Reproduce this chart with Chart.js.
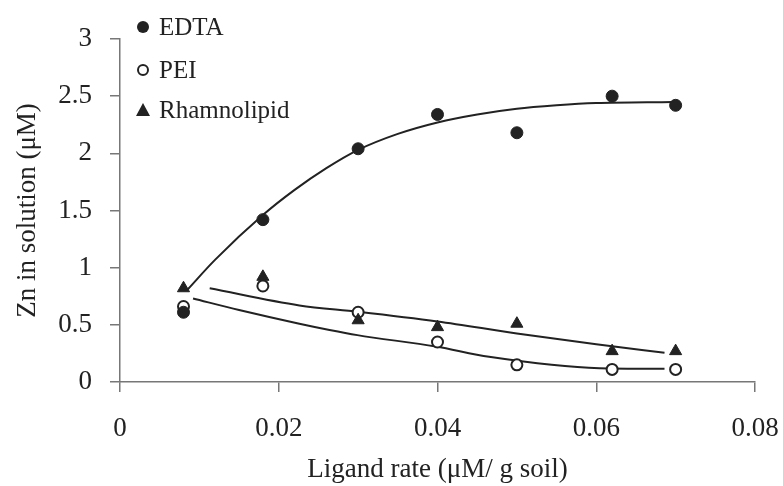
<!DOCTYPE html>
<html>
<head>
<meta charset="utf-8">
<script src="https://cdn.jsdelivr.net/npm/chart.js@4/dist/chart.umd.min.js"></script>
<style>
  body { margin: 0; background: #fff; }
  #wrap { width: 783px; height: 486px; }
</style>
</head>
<body>
<div id="wrap"><canvas id="znChart" width="783" height="486"></canvas></div>
<script>
// ----------------------------
// DATA
// ----------------------------
const ligandRate = [0.008, 0.018, 0.030, 0.040, 0.050, 0.062, 0.070];
const edta = [0.61, 1.42, 2.04, 2.34, 2.18, 2.50, 2.42];
const pei = [0.66, 0.84, 0.61, 0.35, 0.15, 0.11, 0.11];
const rhamnolipid = [0.82, 0.92, 0.54, 0.48, 0.51, 0.27, 0.27];

// fitted trend curves as drawn in the figure
const edtaFitX = [0.0084, 0.012, 0.018, 0.022, 0.026, 0.030, 0.035, 0.040, 0.045, 0.050, 0.055, 0.060, 0.0696];
const edtaFitY = [0.80, 1.07, 1.46, 1.68, 1.87, 2.03, 2.17, 2.27, 2.34, 2.39, 2.42, 2.44, 2.45];
const peiFitX = [0.0092, 0.015, 0.0226, 0.0264, 0.0299, 0.0398, 0.0465, 0.0604, 0.0686];
const peiFitY = [0.73, 0.63, 0.51, 0.455, 0.41, 0.31, 0.22, 0.12, 0.115];
const rhamFitX = [0.0113, 0.0226, 0.030, 0.040, 0.050, 0.060, 0.0686];
const rhamFitY = [0.82, 0.67, 0.615, 0.53, 0.425, 0.33, 0.255];

const seriesNames = ["EDTA", "PEI", "Rhamnolipid"];
const xTicks = [0, 0.02, 0.04, 0.06, 0.08];
const yTicks = [0, 0.5, 1, 1.5, 2, 2.5, 3];

const ink = "#222";
const serif = "'Liberation Serif', 'Times New Roman', serif";

function toPoints(xs, ys) {
    return xs.map((x, i) => ({ x: x, y: ys[i] }));
}

function fitLine(xs, ys) {
    return {
        type: "line",
        data: toPoints(xs, ys),
        borderColor: ink,
        borderWidth: 2,
        pointRadius: 0,
        fill: false,
        cubicInterpolationMode: "monotone",
        order: 2
    };
}

// ----------------------------
// LEGEND (top-left, drawn on canvas)
// ----------------------------
const cornerLegend = {
    id: "cornerLegend",
    afterDraw(chart) {
        const ctx = chart.ctx;
        const rows = [
            { y: 27, style: "filled" },
            { y: 70, style: "open" },
            { y: 110, style: "triangle" }
        ];
        ctx.save();
        rows.forEach((row, i) => {
            const cx = 143;
            ctx.fillStyle = ink;
            ctx.strokeStyle = ink;
            ctx.lineWidth = 2;
            ctx.beginPath();
            if (row.style === "filled") {
                ctx.arc(cx, row.y, 6, 0, Math.PI * 2);
                ctx.fill();
            } else if (row.style === "open") {
                ctx.arc(cx, row.y, 5, 0, Math.PI * 2);
                ctx.fillStyle = "#fff";
                ctx.fill();
                ctx.stroke();
            } else {
                ctx.moveTo(cx, row.y - 7);
                ctx.lineTo(cx + 7, row.y + 6);
                ctx.lineTo(cx - 7, row.y + 6);
                ctx.closePath();
                ctx.fill();
            }
            ctx.fillStyle = ink;
            ctx.font = "25px " + serif;
            ctx.textAlign = "left";
            ctx.textBaseline = "middle";
            ctx.fillText(seriesNames[i], 159, row.y + 1);
        });
        ctx.restore();
    }
};

// ----------------------------
// CHART
// ----------------------------
const ctx = document.getElementById("znChart").getContext("2d");

new Chart(ctx, {
    type: "scatter",
    data: {
        datasets: [
            {
                label: seriesNames[0],
                data: toPoints(ligandRate, edta),
                pointStyle: "circle",
                pointRadius: 6,
                backgroundColor: ink,
                borderColor: ink,
                borderWidth: 1,
                order: 1
            },
            {
                label: seriesNames[1],
                data: toPoints(ligandRate, pei),
                pointStyle: "circle",
                pointRadius: 5.5,
                backgroundColor: "#fff",
                borderColor: ink,
                borderWidth: 2,
                order: 1
            },
            {
                label: seriesNames[2],
                data: toPoints(ligandRate, rhamnolipid),
                pointStyle: "triangle",
                pointRadius: 7,
                backgroundColor: ink,
                borderColor: ink,
                borderWidth: 1,
                order: 0
            },
            fitLine(edtaFitX, edtaFitY),
            fitLine(peiFitX, peiFitY),
            fitLine(rhamFitX, rhamFitY)
        ]
    },
    options: {
        responsive: false,
        animation: false,
        layout: { padding: { top: 39, right: 28, left: 0, bottom: 0 } },
        plugins: {
            legend: { display: false },
            tooltip: { enabled: false }
        },
        scales: {
            x: {
                type: "linear",
                min: xTicks[0],
                max: xTicks[xTicks.length - 1],
                afterBuildTicks: (scale) => { scale.ticks = xTicks.map(v => ({ value: v })); },
                afterFit: (scale) => {
                    scale.height = 104;
                    scale.paddingLeft = 0;
                    scale.paddingRight = 0;
                },
                ticks: {
                    color: ink,
                    padding: 21,
                    font: { family: serif, size: 27 },
                    callback: (v) => String(parseFloat(Number(v).toFixed(2)))
                },
                grid: {
                    drawOnChartArea: false,
                    drawTicks: true,
                    tickLength: 10,
                    color: "#777",
                    lineWidth: 1.5
                },
                border: { color: "#777", width: 1.5 },
                title: {
                    display: true,
                    text: "Ligand rate (μM/ g soil)",
                    color: ink,
                    font: { family: serif, size: 27 },
                    padding: { top: 0, bottom: 0 }
                }
            },
            y: {
                min: yTicks[0],
                max: yTicks[yTicks.length - 1],
                afterBuildTicks: (scale) => { scale.ticks = yTicks.map(v => ({ value: v })); },
                afterFit: (scale) => { scale.width = 120; },
                ticks: {
                    color: ink,
                    padding: 18,
                    font: { family: serif, size: 27 },
                    callback: (v) => String(v)
                },
                grid: {
                    drawOnChartArea: false,
                    drawTicks: true,
                    tickLength: 10,
                    color: "#777",
                    lineWidth: 1.5
                },
                border: { color: "#777", width: 1.5 },
                title: {
                    display: true,
                    text: "Zn in solution (μM)",
                    color: ink,
                    font: { family: serif, size: 27 },
                    padding: { top: 12, bottom: 0 }
                }
            }
        }
    },
    plugins: [cornerLegend]
});
</script>
</body>
</html>
